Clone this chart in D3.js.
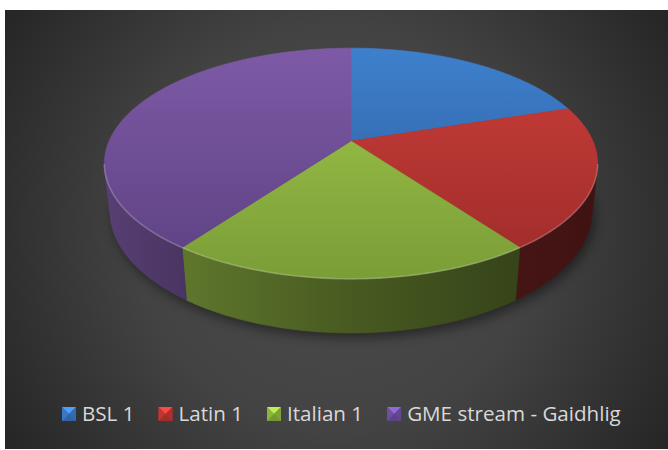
<!DOCTYPE html>
<html>
<head>
<meta charset="utf-8">
<script src="https://cdn.jsdelivr.net/npm/d3@7"></script>
<style>
  html, body { margin: 0; padding: 0; background: #ffffff; }
  svg { display: block; }
</style>
</head>
<body>
<div id="chart"></div>
<script>
// Course enrolment shares
const categories = ["BSL 1", "Latin 1", "Italian 1", "GME stream - Gaidhlig"];
const values = [1, 1, 1, 2];

// Base (lit) colours per slice, and the darker tone reached lower down the top face
const topLight = ["#3e80cd", "#cb3e3a", "#a0c84a", "#7e5aa6"];
const topDark  = ["#2a5896", "#9c2b29", "#7a9d37", "#5c4082"];
const legendColors = ["#3b78c4", "#be3733", "#8db43e", "#6e4fa0"];

const W = 668, H = 450;
const svg = d3.select("#chart").append("svg")
  .attr("width", W).attr("height", H);
const defs = svg.append("defs");

// Chart background
const bg = defs.append("radialGradient").attr("id", "bg")
  .attr("gradientUnits", "userSpaceOnUse")
  .attr("cx", 336).attr("cy", 229).attr("r", 400);
bg.append("stop").attr("offset", 0).attr("stop-color", "#4c4c4c");
bg.append("stop").attr("offset", 0.5).attr("stop-color", "#434343");
bg.append("stop").attr("offset", 1).attr("stop-color", "#252525");
svg.append("rect").attr("x", 5).attr("y", 10).attr("width", W - 5).attr("height", 439)
  .attr("fill", "url(#bg)");

// Perspective camera for the 3D disc
const cx = 351, cy = 141;
const phi = 27.3 * Math.PI / 180;
const D = 4.555, F = 1102, depthH = 0.2227;
function proj(theta, level) {
  const x = Math.sin(theta), z = -Math.cos(theta), yw = -depthH * level;
  const dep = D - yw * Math.sin(phi) - z * Math.cos(phi);
  const up = yw * Math.cos(phi) - z * Math.sin(phi);
  return [cx + F * x / dep, cy - F * up / dep];
}
function arcPts(a0, a1, level) {
  const n = Math.max(2, Math.ceil(Math.abs(a1 - a0) / 0.01));
  return d3.range(n + 1).map(i => proj(a0 + (a1 - a0) * i / n, level));
}
const line = d3.line();

const pie = d3.pie().sort(null).value(d => d)(values);

// Range of the outer wall facing the camera
const camDist = D * Math.cos(phi);
const tz = 1 / camDist;
const visA0 = Math.PI - Math.acos(tz), visA1 = Math.PI + Math.acos(tz);

// Side shading: brighter on the left, darker to the right
const sideStops = [[104, 0.70], [184, 0.59], [351, 0.45], [518, 0.34], [598, 0.31]];
pie.forEach((p, i) => {
  const base = d3.rgb(topLight[i]);
  const sg = defs.append("linearGradient").attr("id", "side" + i)
    .attr("gradientUnits", "userSpaceOnUse")
    .attr("x1", 104).attr("x2", 598).attr("y1", 0).attr("y2", 0);
  sideStops.forEach(([x, f]) => {
    sg.append("stop").attr("offset", (x - 104) / (598 - 104))
      .attr("stop-color", d3.rgb(base.r * f, base.g * f, base.b * f));
  });
  const tg = defs.append("linearGradient").attr("id", "top" + i)
    .attr("gradientUnits", "userSpaceOnUse")
    .attr("x1", 0).attr("x2", 0).attr("y1", 48).attr("y2", 280);
  tg.append("stop").attr("offset", 0).attr("stop-color", topLight[i]);
  tg.append("stop").attr("offset", 1).attr("stop-color", topDark[i]);
});

// Soft shadow under the disc
const blur = defs.append("filter").attr("id", "shadow")
  .attr("x", "-20%").attr("y", "-20%").attr("width", "140%").attr("height", "140%");
blur.append("feGaussianBlur").attr("stdDeviation", 6);
const outline = arcPts(0, 2 * Math.PI, 1);
svg.append("path")
  .attr("d", line(outline) + "Z")
  .attr("transform", "translate(3,5)")
  .attr("fill", "#000").attr("opacity", 0.45)
  .attr("filter", "url(#shadow)");

const pieG = svg.append("g");

// Outer walls
pie.forEach((p, i) => {
  const a0 = Math.max(p.startAngle, visA0), a1 = Math.min(p.endAngle, visA1);
  if (a1 <= a0) return;
  const pts = arcPts(a0, a1, 0).concat(arcPts(a1, a0, 1));
  pieG.append("path").attr("d", line(pts) + "Z")
    .attr("fill", `url(#side${i})`)
    .attr("stroke", `url(#side${i})`).attr("stroke-width", 0.6);
});

// Top faces
pie.forEach((p, i) => {
  const pts = [[cx, cy]].concat(arcPts(p.startAngle, p.endAngle, 0));
  pieG.append("path").attr("d", line(pts) + "Z")
    .attr("fill", `url(#top${i})`)
    .attr("stroke", `url(#top${i})`).attr("stroke-width", 0.6);
});

// Bevel highlight along the front rim
const rimBlur = defs.append("filter").attr("id", "rimblur");
rimBlur.append("feGaussianBlur").attr("stdDeviation", 0.7);
pieG.append("path").attr("d", line(arcPts(visA0 - 0.05, visA1 + 0.05, 0)))
  .attr("fill", "none").attr("stroke", "#ffffff").attr("stroke-opacity", 0.22)
  .attr("stroke-width", 1.6).attr("filter", "url(#rimblur)");

// Legend
const legend = svg.append("g").attr("font-family", "'Open Sans', Lato, sans-serif")
  .attr("font-size", 20.6).attr("fill", "#d9d9d9");
let lx = 62;
const ly = 421;
categories.forEach((c, i) => {
  const g = legend.append("g");
  const s = 14, mx = lx, my = ly - 14;
  const col = d3.rgb(legendColors[i]);
  g.append("rect").attr("x", mx).attr("y", my).attr("width", s).attr("height", s)
    .attr("fill", col.darker(0.5));
  g.append("path")
    .attr("d", `M${mx},${my}L${mx + s},${my}L${mx + s / 2},${my + s / 2}Z`)
    .attr("fill", col.brighter(0.8));
  g.append("path")
    .attr("d", `M${mx},${my}L${mx + s / 2},${my + s / 2}L${mx},${my + s}Z`)
    .attr("fill", col);
  g.append("path")
    .attr("d", `M${mx + s},${my}L${mx + s / 2},${my + s / 2}L${mx + s},${my + s}Z`)
    .attr("fill", col.darker(0.3));
  const t = g.append("text").attr("x", mx + s + 6).attr("y", ly).text(c);
  lx = mx + s + 6 + t.node().getComputedTextLength() + 24;
});
</script>
</body>
</html>
